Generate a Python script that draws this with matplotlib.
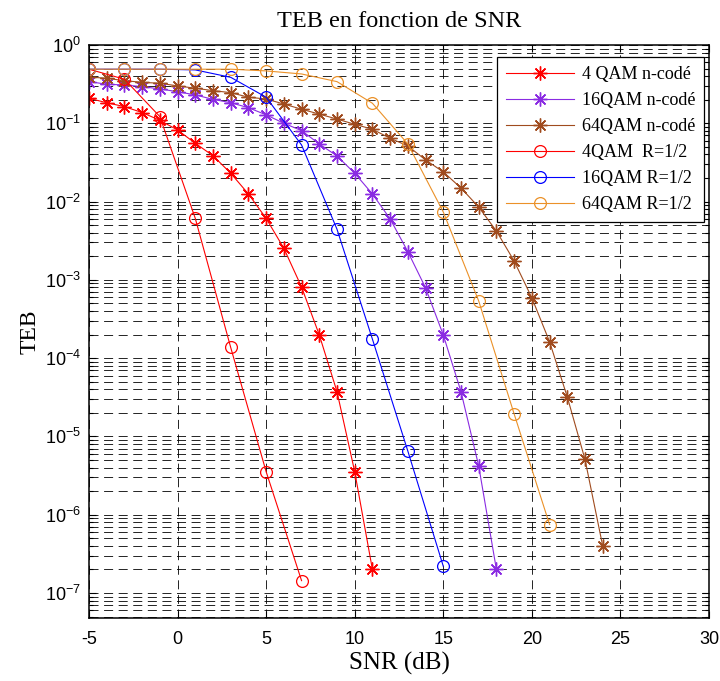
import math
import matplotlib
matplotlib.use("Agg")
import matplotlib.pyplot as plt
from matplotlib.ticker import LogLocator, FixedLocator, FuncFormatter, NullFormatter

# SNR axes (dB)
snr_4qam_nc = [-5, -4, -3, -2, -1, 0, 1, 2, 3, 4, 5, 6, 7, 8, 9, 10, 11]
snr_16qam_nc = [-5, -4, -3, -2, -1, 0, 1, 2, 3, 4, 5, 6, 7, 8, 9, 10, 11, 12,
                13, 14, 15, 16, 17, 18]
snr_64qam_nc = [-5, -4, -3, -2, -1, 0, 1, 2, 3, 4, 5, 6, 7, 8, 9, 10, 11, 12,
                13, 14, 15, 16, 17, 18, 19, 20, 21, 22, 23, 24]
snr_4qam_c = [-5, -3, -1, 1, 3, 5, 7]
snr_16qam_c = [-5, -3, -1, 1, 3, 5, 7, 9, 11, 13, 15]
snr_64qam_c = [-5, -3, -1, 1, 3, 5, 7, 9, 11, 13, 15, 17, 19, 21]

# Bit error rates (TEB)
teb_4qam_nc = [0.208, 0.183, 0.163, 0.137, 0.109, 0.082, 0.0555, 0.0385, 0.0230,
               0.0125, 0.0061, 0.00253, 8.1e-4, 1.98e-4, 3.73e-5, 3.55e-6, 2.0e-7]
teb_16qam_nc = [0.34, 0.315, 0.308, 0.294, 0.274, 0.253, 0.230, 0.202, 0.183,
                0.158, 0.128, 0.100, 0.0805, 0.0544, 0.0382, 0.023, 0.0125,
                0.0060, 0.00229, 7.9e-4, 1.98e-4, 3.73e-5, 4.2e-6, 2.0e-7]
teb_64qam_nc = [0.39, 0.375, 0.35, 0.333, 0.324, 0.30, 0.28, 0.261, 0.246,
                0.215, 0.204, 0.176, 0.151, 0.131, 0.113, 0.097, 0.0838, 0.0643,
                0.0513, 0.034, 0.0239, 0.0149, 0.0085, 0.0042, 0.00174, 5.9e-4,
                1.62e-4, 3.2e-5, 5.1e-6, 4.0e-7]
teb_4qam_c = [0.49, 0.365, 0.1216, 0.0061, 1.37e-4, 3.55e-6, 1.44e-7]
teb_16qam_c = [0.49, 0.49, 0.49, 0.48, 0.386, 0.215, 0.0528, 0.00443, 1.75e-4,
               6.5e-6, 2.2e-7]
teb_64qam_c = [0.49, 0.49, 0.49, 0.49, 0.49, 0.466, 0.426, 0.34, 0.18, 0.0544,
               0.00736, 5.37e-4, 1.94e-5, 7.5e-7]

labels = ["4 QAM n-codé", "16QAM n-codé", "64QAM n-codé",
          "4QAM  R=1/2", "16QAM R=1/2", "64QAM R=1/2"]
x_ticks = [-5, 0, 5, 10, 15, 20, 25, 30]
y_ticks = [1e-7, 1e-6, 1e-5, 1e-4, 1e-3, 1e-2, 1e-1, 1e0]

red = "#FF0000"
purple = "#8A2BE2"
brown = "#A04B1E"
blue = "#0000FF"
orange = "#EB9128"

serif = ["Liberation Serif", "DejaVu Serif"]
sans = ["Liberation Sans", "DejaVu Sans"]
plt.rcParams["lines.scale_dashes"] = False
plt.rcParams["axes.unicode_minus"] = False
plt.rcParams["mathtext.fontset"] = "custom"
plt.rcParams["mathtext.rm"] = "Liberation Sans"

fig = plt.figure(figsize=(7.2, 6.81), dpi=100)
ax = fig.add_axes([0.1236, 0.0925, 0.8611, 0.8415])

asterisk = (8, 2, 0)
star_kw = dict(marker=asterisk, markersize=10, markeredgewidth=1.0, linewidth=0.8)
circ_kw = dict(marker="o", markersize=8.5, markerfacecolor="none",
               markeredgewidth=0.9, linewidth=0.8)

ax.semilogy(snr_4qam_nc, teb_4qam_nc, color=red, label=labels[0], **star_kw)
ax.semilogy(snr_16qam_nc, teb_16qam_nc, color=purple, label=labels[1], **star_kw)
ax.semilogy(snr_64qam_nc, teb_64qam_nc, color=brown, label=labels[2], **star_kw)
ax.semilogy(snr_4qam_c, teb_4qam_c, color=red, label=labels[3], **circ_kw)
ax.semilogy(snr_16qam_c, teb_16qam_c, color=blue, label=labels[4], **circ_kw)
ax.semilogy(snr_64qam_c, teb_64qam_c, color=orange, label=labels[5], **circ_kw)

ax.set_xlim(-5, 30)
ax.set_ylim(4.8e-8, 1)
ax.xaxis.set_major_locator(FixedLocator(x_ticks))
ax.yaxis.set_major_locator(FixedLocator(y_ticks))
ax.yaxis.set_minor_locator(LogLocator(base=10, subs=range(2, 10), numticks=20))
ax.yaxis.set_minor_formatter(NullFormatter())


def decade_label(v, pos):
    e = int(round(math.log10(v)))
    return r"$\mathregular{10^{%d}}$" % e


ax.yaxis.set_major_formatter(FuncFormatter(decade_label))

grid_kw = dict(color="black", linestyle=(0, (6.5, 4)), linewidth=0.6)
ax.grid(True, which="major", axis="both", **grid_kw)
ax.grid(True, which="minor", axis="y", **grid_kw)
ax.set_axisbelow(True)

ax.tick_params(which="both", direction="in", top=True, right=True,
               labelsize=13, width=0.8)
ax.tick_params(which="major", length=5)
ax.tick_params(which="minor", length=3)
ax.tick_params(axis="x", pad=9)
ax.tick_params(axis="y", pad=6)
for lab in ax.get_xticklabels() + ax.get_yticklabels():
    lab.set_family(sans)
for sp in ax.spines.values():
    sp.set_linewidth(1.1)

ax.set_title("TEB en fonction de SNR", family=serif, fontsize=17.5, pad=13)
ax.set_xlabel("SNR (dB)", family=serif, fontsize=18, labelpad=3)
ax.set_ylabel("TEB", family=serif, fontsize=17, labelpad=3)

leg = ax.legend(loc="upper right", bbox_to_anchor=(0.978, 0.916),
                bbox_transform=fig.transFigure, prop={"family": serif, "size": 13},
                fancybox=False, framealpha=1, edgecolor="black",
                handlelength=3.8, handletextpad=0.4, labelspacing=0.5,
                borderpad=0.5, borderaxespad=0)
leg.get_frame().set_linewidth(0.9)

fig.savefig("out.png", dpi=100)
